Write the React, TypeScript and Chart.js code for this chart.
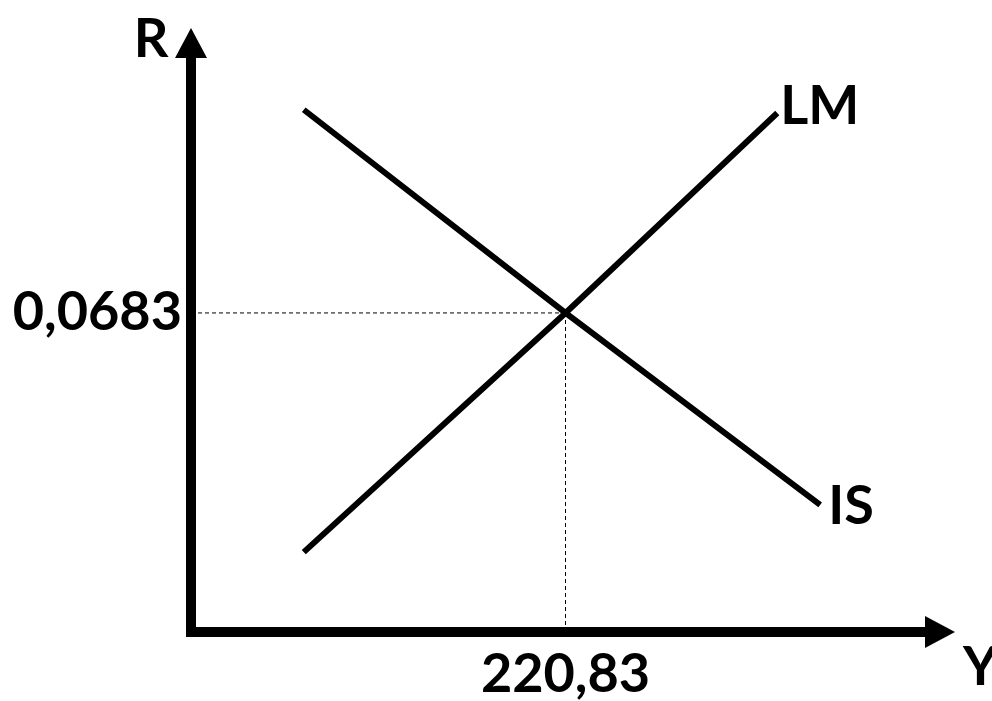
import React, { useEffect, useRef } from "react";
import { Chart, registerables } from "chart.js";

Chart.register(...registerables);

// ---- data ----
const seriesNames = ["LM", "IS"];
const lmY = [66.5, 220.83, 345.7];
const lmR = [0.0171, 0.0683, 0.1111];
const isY = [66.5, 220.83, 371.0];
const isR = [0.1118, 0.0683, 0.0272];
const eqY = 220.83;
const eqR = 0.0683;
const xTickLabels = ["220,83"];
const yTickLabels = ["0,0683"];
const xAxisLabel = "Y";
const yAxisLabel = "R";
const xMax = 450.5;
const rMax = 0.1293;

const FONT = "Lato, 'Open Sans', sans-serif";

const toPts = (xs: number[], ys: number[]) => xs.map((x, i) => ({ x, y: ys[i] }));

const axesPlugin = {
  id: "islmAxes",
  afterDatasetsDraw(chart: any) {
    const { ctx } = chart;
    const xs = chart.scales.x;
    const ys = chart.scales.y;
    const x0 = xs.getPixelForValue(0);
    const y0 = ys.getPixelForValue(0);
    const xEnd = xs.getPixelForValue(xMax);
    const yEnd = ys.getPixelForValue(rMax);
    const aLen = 30;
    const aHalf = 16;
    const lw = 10;
    ctx.save();
    ctx.fillStyle = "#000";
    ctx.strokeStyle = "#000";
    ctx.lineWidth = lw;
    ctx.lineCap = "butt";
    // y axis
    ctx.beginPath();
    ctx.moveTo(x0, y0 + lw / 2);
    ctx.lineTo(x0, yEnd + aLen - 1);
    ctx.stroke();
    ctx.beginPath();
    ctx.moveTo(x0, yEnd);
    ctx.lineTo(x0 - aHalf, yEnd + aLen);
    ctx.lineTo(x0 + aHalf, yEnd + aLen);
    ctx.closePath();
    ctx.fill();
    // x axis
    ctx.beginPath();
    ctx.moveTo(x0 - lw / 2, y0);
    ctx.lineTo(xEnd - aLen + 1, y0);
    ctx.stroke();
    ctx.beginPath();
    ctx.moveTo(xEnd, y0);
    ctx.lineTo(xEnd - aLen, y0 - aHalf);
    ctx.lineTo(xEnd - aLen, y0 + aHalf);
    ctx.closePath();
    ctx.fill();
    // axis titles
    ctx.font = `bold 54px ${FONT}`;
    ctx.textBaseline = "middle";
    ctx.textAlign = "center";
    ctx.fillText(yAxisLabel, x0 - 40, yEnd + 12);
    ctx.textAlign = "left";
    ctx.fillText(xAxisLabel, xEnd + 8, y0 + 36);
    // series labels at line ends
    chart.data.datasets.forEach((ds: any, i: number) => {
      if (!ds.seriesLabel) return;
      const meta = chart.getDatasetMeta(i);
      const last = meta.data[meta.data.length - 1];
      ctx.textAlign = "left";
      ctx.fillText(ds.label, last.x + ds.labelDx, last.y + ds.labelDy);
    });
    ctx.restore();
  },
};

export default function App() {
  const ref = useRef<HTMLCanvasElement | null>(null);
  useEffect(() => {
    if (!ref.current) return;
    const chart = new Chart(ref.current, {
      type: "scatter",
      data: {
        datasets: [
          {
            label: "eqR",
            data: [
              { x: 0, y: eqR },
              { x: eqY, y: eqR },
            ],
            showLine: true,
            borderColor: "#000",
            borderWidth: 1,
            borderDash: [4, 3],
            pointRadius: 0,
          },
          {
            label: "eqY",
            data: [
              { x: eqY, y: 0 },
              { x: eqY, y: eqR },
            ],
            showLine: true,
            borderColor: "#000",
            borderWidth: 1,
            borderDash: [4, 3],
            pointRadius: 0,
          },
          {
            label: seriesNames[0],
            data: toPts(lmY, lmR),
            showLine: true,
            borderColor: "#000",
            borderWidth: 6,
            pointRadius: 0,
            seriesLabel: true,
            labelDx: 3,
            labelDy: -6,
          } as any,
          {
            label: seriesNames[1],
            data: toPts(isY, isR),
            showLine: true,
            borderColor: "#000",
            borderWidth: 6,
            pointRadius: 0,
            seriesLabel: true,
            labelDx: 8,
            labelDy: 2,
          } as any,
        ],
      },
      options: {
        animation: false,
        responsive: false,
        layout: { padding: { top: 28, right: 37, left: 0, bottom: 0 } },
        plugins: { legend: { display: false }, tooltip: { enabled: false } },
        scales: {
          x: {
            type: "linear",
            min: 0,
            max: xMax,
            grid: { display: false, drawTicks: false },
            border: { display: false },
            afterBuildTicks: (s: any) => {
              s.ticks = [{ value: eqY }];
            },
            afterFit: (s: any) => {
              s.height = 69;
              s.paddingLeft = 0;
              s.paddingRight = 0;
            },
            ticks: {
              color: "#000",
              padding: 10,
              maxRotation: 0,
              autoSkip: false,
              font: { family: FONT, weight: "bold", size: 54 },
              callback: () => xTickLabels[0],
            },
          },
          y: {
            type: "linear",
            min: 0,
            max: rMax,
            grid: { display: false, drawTicks: false },
            border: { display: false },
            afterBuildTicks: (s: any) => {
              s.ticks = [{ value: eqR }];
            },
            afterFit: (s: any) => {
              s.width = 191;
              s.paddingTop = 0;
              s.paddingBottom = 0;
            },
            ticks: {
              color: "#000",
              padding: 9,
              autoSkip: false,
              font: { family: FONT, weight: "bold", size: 54 },
              callback: () => yTickLabels[0],
            },
          },
        },
      },
      plugins: [axesPlugin],
    });
    return () => chart.destroy();
  }, []);
  return (
    <div style={{ position: "absolute", left: 0, top: 0, width: 992, height: 701, background: "#fff" }}>
      <canvas ref={ref} width={992} height={701} />
    </div>
  );
}
